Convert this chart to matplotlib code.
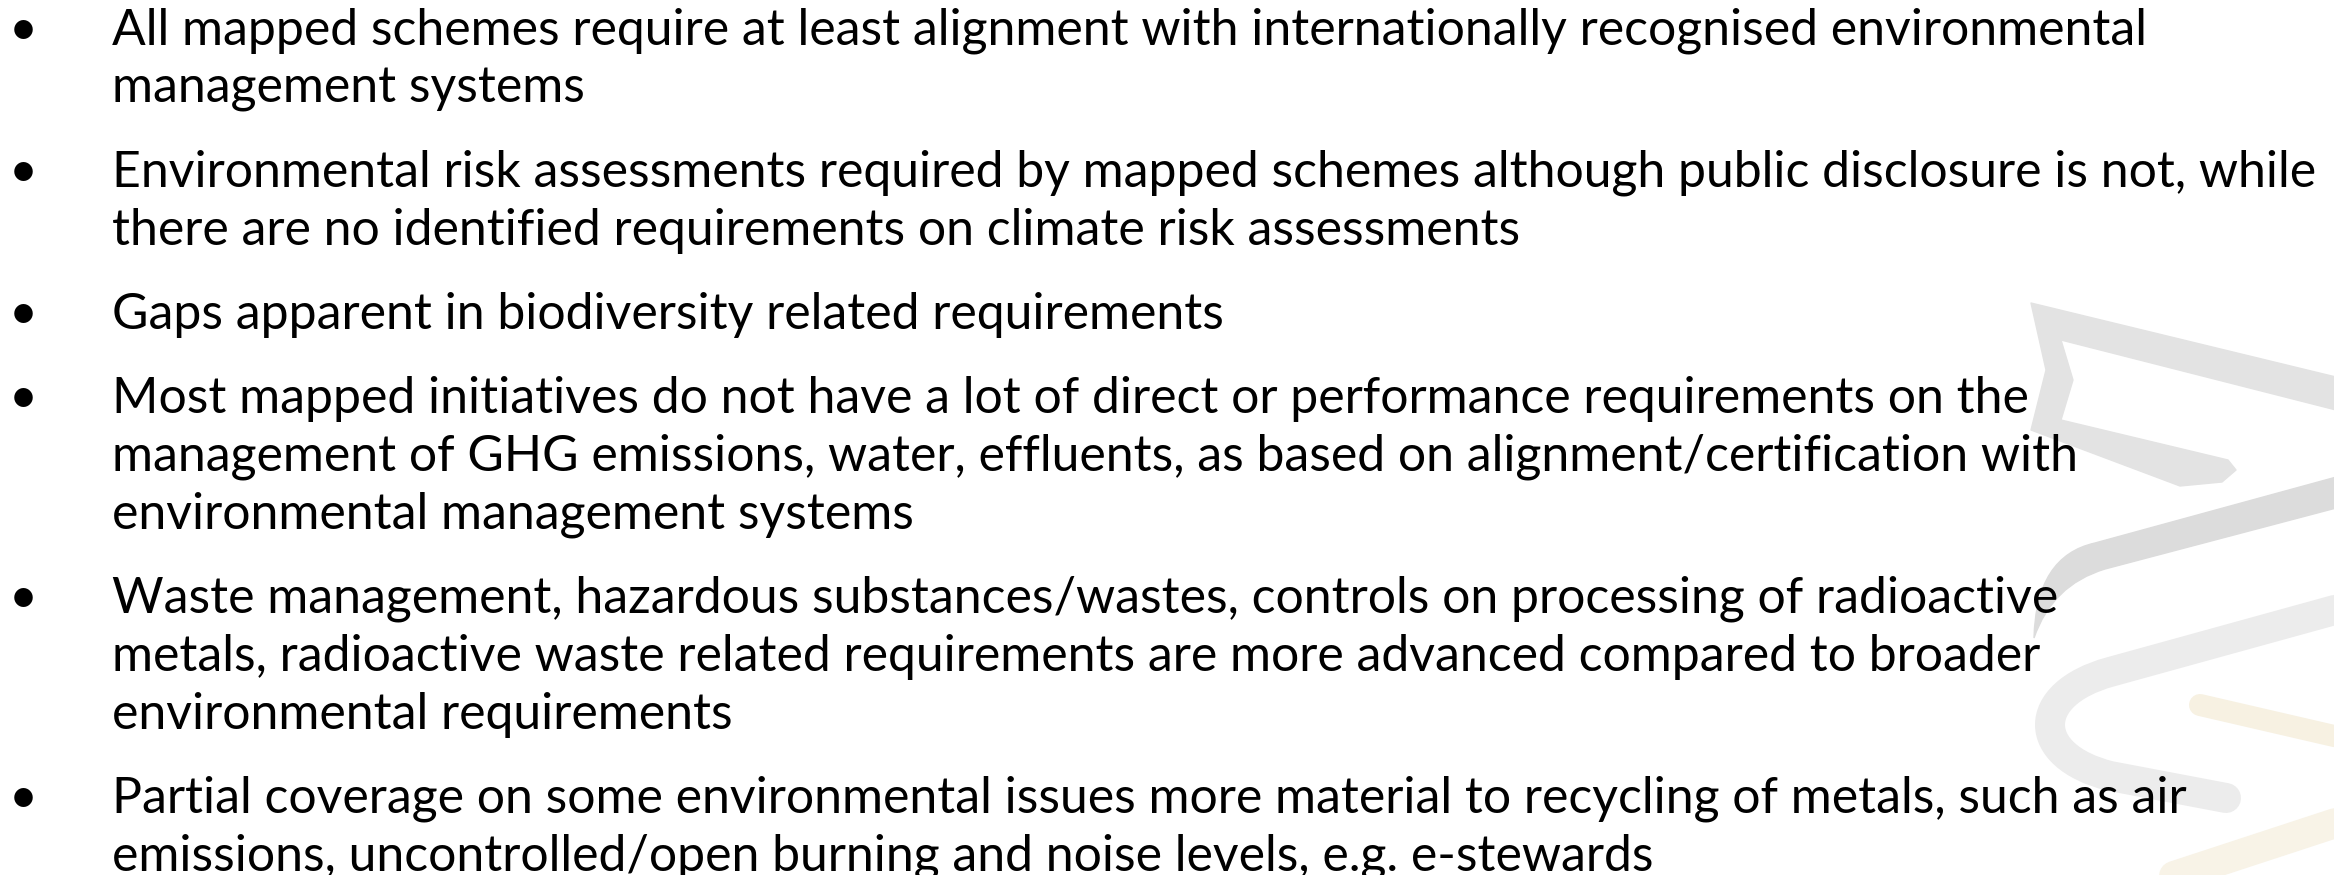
import matplotlib.pyplot as plt
from matplotlib.path import Path
from matplotlib.patches import PathPatch


bullets = [
    ["All mapped schemes require at least alignment with internationally recognised environmental",
     "management systems"],
    ["Environmental risk assessments required by mapped schemes although public disclosure is not, while",
     "there are no identified requirements on climate risk assessments"],
    ["Gaps apparent in biodiversity related requirements"],
    ["Most mapped initiatives do not have a lot of direct or performance requirements on the",
     "management of GHG emissions, water, effluents, as based on alignment/certification with",
     "environmental management systems"],
    ["Waste management, hazardous substances/wastes, controls on processing of radioactive",
     "metals, radioactive waste related requirements are more advanced compared to broader",
     "environmental requirements"],
    ["Partial coverage on some environmental issues more material to recycling of metals, such as air",
     "emissions, uncontrolled/open burning and noise levels, e.g. e-stewards"],
]

FONT = ['Lato', 'DejaVu Sans']
W, H = 2334, 875


def px(v):
    return v * 72 / 100  # pixel width -> points at dpi 100


def draw_watermark(ax):
    # chevron ribbon at the top
    verts = [(2340, 378), (2031, 303), (2046, 370), (2031, 430), (2180, 486),
             (2222, 482), (2236, 470), (2228, 460), (2061, 420), (2073, 380),
             (2061, 340), (2340, 411), (2340, 378)]
    ax.add_patch(PathPatch(Path(verts, closed=True), facecolor='#e3e3e3',
                           edgecolor='#e3e3e3', lw=1, joinstyle='round'))

    # darker swoosh ending in a point
    verts = [(2340, 476), (2095, 543), (2036, 556), (2034, 638),
             (2052, 585), (2105, 569), (2340, 507), (2340, 476)]
    codes = [Path.MOVETO, Path.LINETO, Path.CURVE3, Path.CURVE3,
             Path.CURVE3, Path.CURVE3, Path.LINETO, Path.CLOSEPOLY]
    ax.add_patch(PathPatch(Path(verts, codes), facecolor='#dcdcdc',
                           edgecolor='#dcdcdc', lw=1))

    # light U-shaped ribbon
    verts = [(2360, 603), (2110, 672), (2030, 694), (2030, 756), (2110, 776), (2226, 798)]
    codes = [Path.MOVETO, Path.LINETO, Path.CURVE4, Path.CURVE4, Path.CURVE4, Path.LINETO]
    ax.add_patch(PathPatch(Path(verts, codes), facecolor='none', edgecolor='#ececec',
                           lw=px(30), capstyle='round', joinstyle='round'))

    # faint golden strokes
    ax.plot([2200, 2360], [705, 742], color='#f7f1e2', lw=px(22), solid_capstyle='round')
    ax.plot([2110, 2360], [897, 815], color='#f8f3e7', lw=px(30), solid_capstyle='round')


def fit_size(ax, line, target, size=36):
    t = ax.text(0, 0, line, fontsize=size, family=FONT)
    w = t.get_window_extent(ax.figure.canvas.get_renderer()).width
    t.remove()
    return size * target / w


def draw_bullets(ax, items, size, top=45, line_step=58, para_step=84):
    y = top
    for lines in items:
        ax.text(23, y, '\u2022', fontsize=size, family=FONT, ha='center', va='baseline')
        for i, line in enumerate(lines):
            ax.text(112, y + i * line_step, line, fontsize=size, family=FONT,
                    ha='left', va='baseline', color='black')
        y += (len(lines) - 1) * line_step + para_step


# Slide layout:
fig = plt.figure(figsize=(W / 100, H / 100), dpi=100)
ax = fig.add_axes([0, 0, 1, 1])
ax.set_xlim(0, W)
ax.set_ylim(H, 0)
ax.axis('off')

draw_watermark(ax)
size = fit_size(ax, bullets[1][0], 2206)
draw_bullets(ax, bullets, size)
fig.savefig('out.png', dpi=100, facecolor='white')
